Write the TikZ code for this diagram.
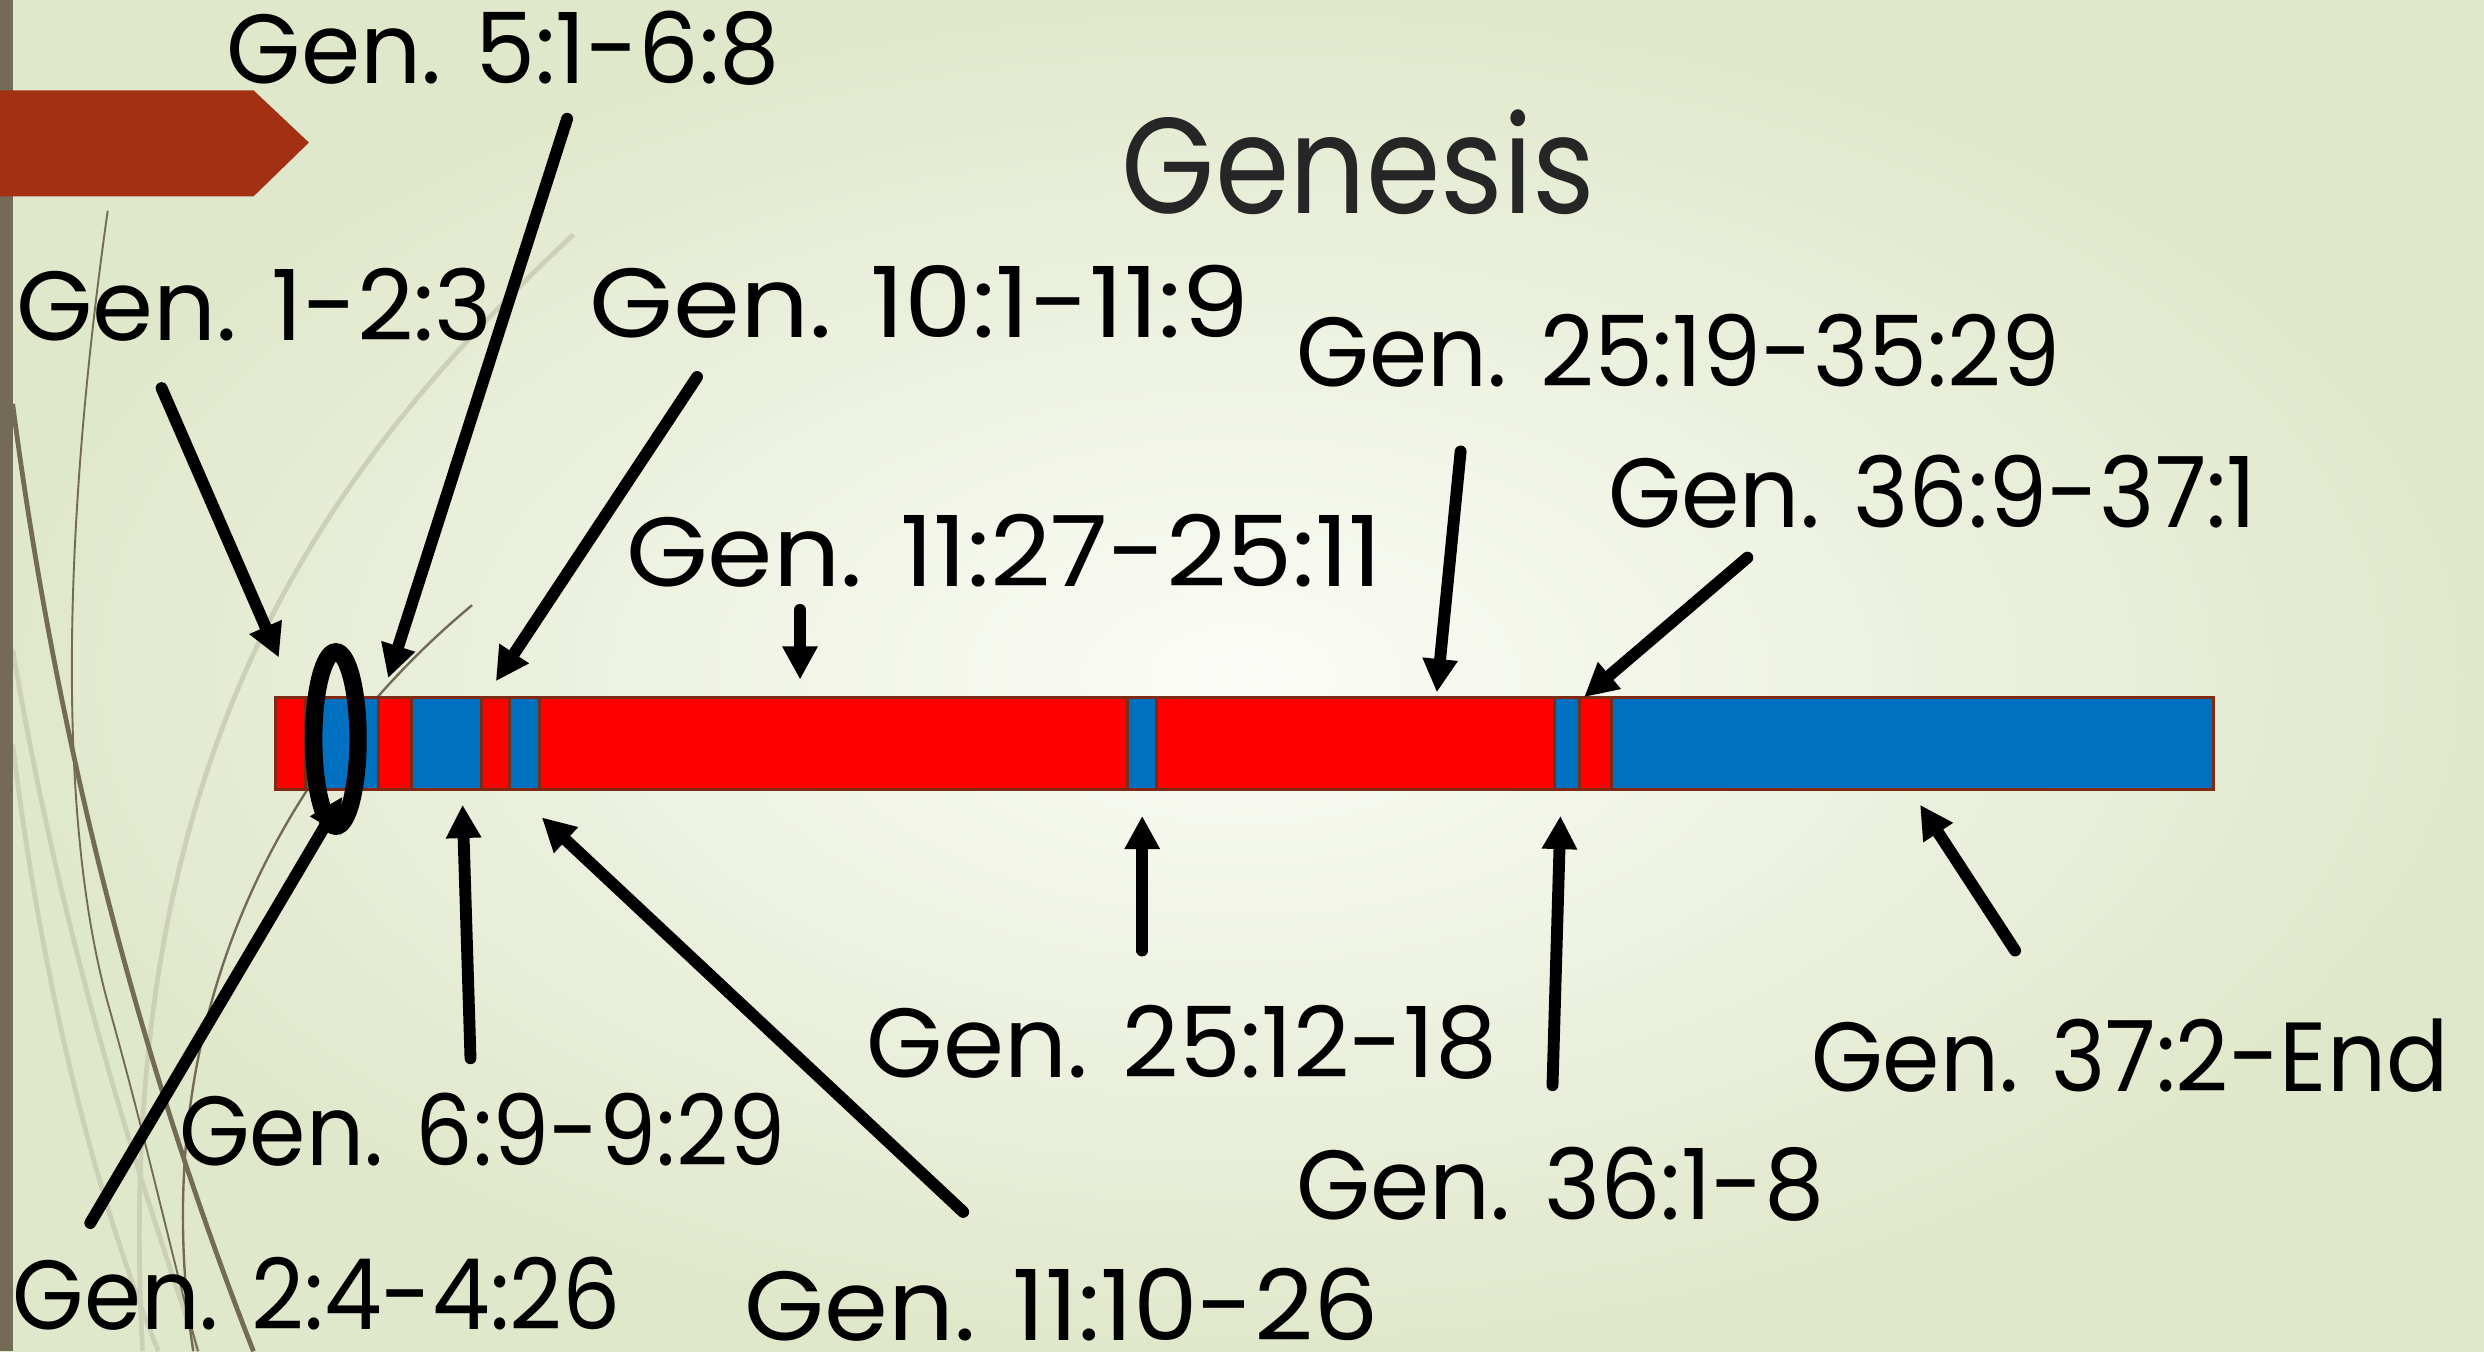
\documentclass[tikz,border=0pt]{standalone}
\usepackage{fontspec}
\setmainfont{Poppins}
\usetikzlibrary{arrows.meta,shapes.geometric}
\definecolor{bgin}{HTML}{FBFCF7}
\definecolor{bgout}{HTML}{E0E8CB}
\definecolor{olive}{HTML}{736B55}
\definecolor{lightcurve}{HTML}{CBD0B6}
\definecolor{banner}{HTML}{A33013}
\definecolor{segred}{HTML}{FF0000}
\definecolor{segblue}{HTML}{0070C0}
\definecolor{segline}{HTML}{7F2A14}
\definecolor{titlegray}{HTML}{262626}
\newcommand{\sx}[2]{\scalebox{#1}[1]{#2}}
\begin{document}
\begin{tikzpicture}[x=1pt,y=-1pt,
 lbl/.style={anchor=base west, inner sep=0pt, font=\fontsize{62}{68}\selectfont, text=black},
 ttl/.style={anchor=base west, inner sep=0pt, font=\fontsize{86}{92}\selectfont, text=titlegray},
 ptr/.style={line width=7.5pt, -{Triangle[length=21pt,width=21pt]}, line cap=round},
 seg/.style={draw=segline, line width=1.8pt, anchor=north west, minimum height=58pt, inner sep=0pt, outer sep=0pt},
 dk/.style={draw=olive},
 lt/.style={draw=lightcurve}
]
\useasboundingbox (0,0) rectangle (1568,853);
\shade[inner color=bgin, outer color=bgout] (0,0) rectangle (1568,853);
% decorative curves
\begin{scope}
\clip (0,0) rectangle (1568,853);
\draw[lt, line width=3pt] (362,148) .. controls (200,300) and (70,480) .. (90,853);
\draw[lt, line width=3pt] (8,410) .. controls (40,600) and (90,750) .. (125,853);
\draw[lt, line width=3pt] (8,470) .. controls (30,650) and (70,780) .. (100,853);
\draw[dk, line width=1.2pt] (68,133) .. controls (40,330) and (35,520) .. (70,640) .. controls (95,730) and (110,800) .. (125,853);
\draw[dk, line width=1.5pt] (298,382) .. controls (180,480) and (90,640) .. (122,853);
\draw[dk, line width=3pt] (8,255) .. controls (40,500) and (100,700) .. (160,853);
\end{scope}
\fill[olive] (0,0) rectangle (8,853);
\fill[banner] (0,57) -- (160,57) -- (195,90) -- (160,124) -- (0,124) -- cycle;
% bar segments
\foreach \name/\xa/\xb/\col in {s1/174/193/segred, s2/193/239/segblue, s3/239/260/segred, s4/260/304/segblue, s5/304/321.5/segred, s6/321.5/340.5/segblue, s7/340.5/711.5/segred, s8/711.5/730/segblue, s9/730/981/segred, s10/981/997/segblue, s11/997/1017/segred, s12/1017/1397/segblue}{
  \pgfmathsetmacro{\w}{\xb-\xa}
  \node[seg, fill=\col, minimum width=\w pt] (\name) at (\xa,440.5) {};
}
% title and labels
\node[ttl] (title) at (708,135) {\sx{0.88}{Genesis}};
\node[lbl] (l1) at (143,53) {\sx{0.972}{Gen. 5:1-6:8}};
\node[lbl] (l2) at (10,215) {\sx{1.0}{Gen. 1-2:3}};
\node[lbl] (l3) at (372,213) {\sx{1.098}{Gen. 10:1-11:9}};
\node[lbl] (l4) at (818,244) {\sx{0.954}{Gen. 25:19-35:29}};
\node[lbl] (l5) at (1015,333) {\sx{0.958}{Gen. 36:9-37:1}};
\node[lbl] (l6) at (395,370) {\sx{1.072}{Gen. 11:27-25:11}};
\node[lbl] (l7) at (547,680) {\sx{1.0}{Gen. 25:12-18}};
\node[lbl] (l8) at (1143,689) {\sx{0.94}{Gen. 37:2-End}};
\node[lbl] (l9) at (113,736) {\sx{0.924}{Gen. 6:9-9:29}};
\node[lbl] (l10) at (818,770) {\sx{0.97}{Gen. 36:1-8}};
\node[lbl] (l11) at (8,839) {\sx{0.934}{Gen. 2:4-4:26}};
\node[lbl] (l12) at (470,846) {\sx{1.047}{Gen. 11:10-26}};
% arrow ends
\coordinate (t1) at (102,245); \coordinate (h1) at (176,415);
\coordinate (t2) at (358,75);  \coordinate (h2) at (245,428);
\coordinate (t3) at (440,238); \coordinate (h3) at (313,430);
\coordinate (t4) at (505,385); \coordinate (h4) at (505,429);
\coordinate (t5) at (922,285); \coordinate (h5) at (907,437);
\coordinate (t6) at (1103,352); \coordinate (h6) at (1000,440);
\coordinate (t7) at (57,772);  \coordinate (h7) at (216,503);
\coordinate (t8) at (297,668); \coordinate (h8) at (292,508);
\coordinate (t9) at (608,765); \coordinate (h9) at (342,516);
\coordinate (t10) at (721,600); \coordinate (h10) at (721,515);
\coordinate (t11) at (980,685); \coordinate (h11) at (985,515);
\coordinate (t12) at (1272,600); \coordinate (h12) at (1212,508);
\foreach \i in {1,...,12}{\draw[ptr] (t\i) -- (h\i);}
% ellipse
\node[draw=black, line width=11pt, ellipse, minimum width=28pt, minimum height=110pt, inner sep=0pt] (ring) at (212,466.5) {};
\end{tikzpicture}
\end{document}
